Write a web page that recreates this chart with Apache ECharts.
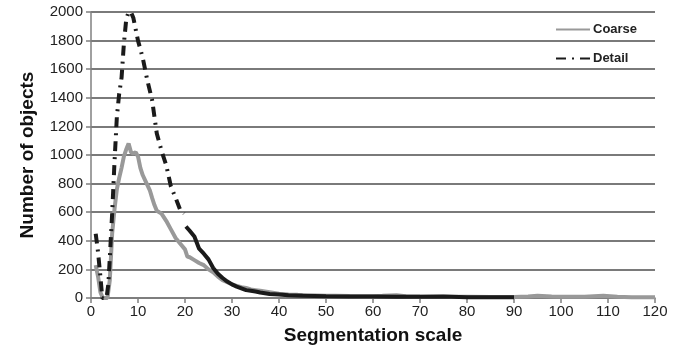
<!DOCTYPE html>
<html>
<head>
<meta charset="utf-8">
<script src="https://cdn.jsdelivr.net/npm/echarts@6/dist/echarts.min.js"></script>
<style>
  html, body { margin: 0; padding: 0; background: #fff; }
  #main { width: 684px; height: 356px; }
</style>
</head>
<body>
<div id="main"></div>
<script>
// values: [segmentation scale, number of objects]
var coarse = [
  [1, 230], [1.5, 150], [2, 40], [2.5, 0], [3, 0], [3.5, 0], [4, 125], [4.5, 450],
  [5, 620], [5.5, 760], [6, 840], [6.5, 910], [7, 990], [7.5, 1040], [8, 1080],
  [8.5, 1020], [9, 1010], [9.5, 1020], [10, 990], [10.5, 910], [11, 860], [11.5, 825],
  [12, 790], [12.5, 755], [13, 700], [13.5, 650], [14, 610], [15, 590], [16, 540],
  [17, 480], [18, 420], [19, 380], [20, 340], [20.5, 290], [21, 285], [22, 265],
  [23, 245], [24, 230], [25, 200], [26, 180], [27, 150], [28, 125], [29, 110],
  [30, 95], [31, 85], [32, 75], [33, 70], [34, 60], [35, 55], [36, 50], [37, 45],
  [38, 40], [39, 35], [40, 30], [42, 25], [44, 22], [46, 20], [48, 18], [50, 15],
  [52, 16], [55, 14], [58, 13], [60, 12], [62, 15], [65, 20], [67, 12], [70, 10],
  [75, 9], [80, 8], [85, 7], [90, 7], [93, 10], [95, 15], [98, 10], [100, 8],
  [105, 8], [109, 15], [112, 8], [115, 6], [120, 5]
];
// steep part of Detail shows its dash-dot pattern, the flat tail looks solid
var detailHead = [
  [1, 450], [1.5, 320], [2, 150], [2.4, 0], [3.3, 0], [3.7, 100], [4, 280],
  [4.5, 590], [5, 950], [5.5, 1265], [6, 1430], [6.5, 1540], [7, 1780], [7.5, 1950],
  [8, 2000], [8.5, 2000], [9, 1960], [10, 1800], [11, 1680], [12, 1520], [13, 1385],
  [14, 1150], [15, 1030], [16, 930], [17, 780], [18, 700], [19, 615], [19.8, 590]
];
var detailTail = [
  [20.2, 500], [21, 470], [22, 430], [23, 345], [24, 310], [25, 270], [26, 210],
  [27, 170], [28, 140], [29, 115], [30, 95], [31, 80], [32, 68], [33, 55], [34, 50],
  [35, 45], [36, 38], [37, 33], [38, 28], [40, 25], [42, 20], [45, 15], [50, 12],
  [55, 10], [60, 10], [65, 9], [70, 8], [75, 10], [80, 6], [85, 5], [90, 5]
];
var seriesNames = ['Coarse', 'Detail'];

var myChart = echarts.init(document.getElementById('main'));
var font = 'Liberation Sans, Arial, sans-serif';
myChart.setOption({
  animation: false,
  textStyle: { fontFamily: font },
  grid: { left: 91, right: 29, top: 12, bottom: 58 },
  legend: {
    data: seriesNames,
    orient: 'vertical',
    left: 550,
    top: 18,
    itemGap: 16,
    itemWidth: 34,
    itemHeight: 14,
    itemStyle: { opacity: 0 },
    textStyle: { fontSize: 13, fontWeight: 'bold', color: '#222', fontFamily: font, padding: [0, 0, 0, -2] }
  },
  xAxis: {
    type: 'value',
    min: 0,
    max: 120,
    interval: 10,
    name: 'Segmentation scale',
    nameLocation: 'middle',
    nameGap: 28,
    nameTextStyle: { fontSize: 19, fontWeight: 'bold', color: '#111' },
    axisLine: { lineStyle: { color: '#808080', width: 1.5 } },
    axisTick: { length: 5, lineStyle: { color: '#808080', width: 1.5 } },
    axisLabel: { fontSize: 15, color: '#222', margin: 6 },
    splitLine: { show: false }
  },
  yAxis: {
    type: 'value',
    min: 0,
    max: 2000,
    interval: 200,
    name: 'Number of objects',
    nameLocation: 'middle',
    nameGap: 54,
    nameTextStyle: { fontSize: 19, fontWeight: 'bold', color: '#111' },
    axisLine: { show: true, lineStyle: { color: '#808080', width: 1.5 } },
    axisTick: { show: true, length: 5, lineStyle: { color: '#808080', width: 1.5 } },
    axisLabel: { fontSize: 15, color: '#222', margin: 8, formatter: function (v) { return String(v); } },
    splitLine: { lineStyle: { color: '#7a7a7a', width: 2 } }
  },
  series: [
    {
      name: 'Coarse',
      type: 'line',
      data: coarse,
      showSymbol: false,
      symbol: 'none',
      lineStyle: { color: '#999', width: 4 },
      itemStyle: { color: '#999' },
      z: 2
    },
    {
      name: 'Detail',
      type: 'line',
      data: detailHead,
      showSymbol: false,
      symbol: 'none',
      lineStyle: { color: '#1a1a1a', width: 4, type: [10, 6, 2, 6] },
      itemStyle: { color: '#1a1a1a' },
      z: 3
    },
    {
      name: 'Detail',
      type: 'line',
      data: detailTail,
      showSymbol: false,
      symbol: 'none',
      lineStyle: { color: '#1a1a1a', width: 4 },
      itemStyle: { color: '#1a1a1a' },
      z: 3
    }
  ]
});
</script>
</body>
</html>
